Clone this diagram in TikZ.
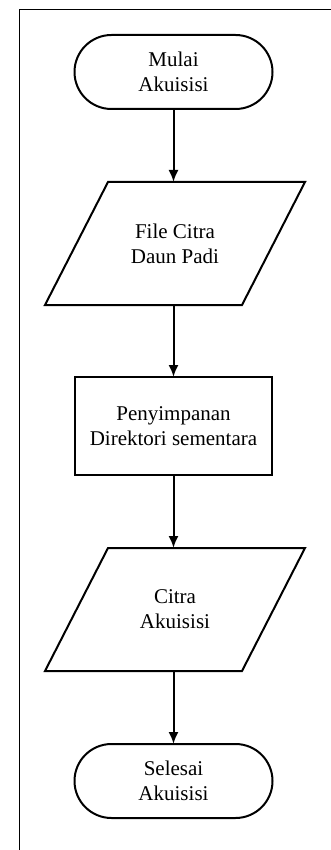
\documentclass[tikz,border=0pt]{standalone}
\usepackage{fontspec}
\setmainfont{Liberation Serif}
\usetikzlibrary{arrows.meta}
\begin{document}
\begin{tikzpicture}[x=1pt,y=-1pt,
  every node/.style={font=\fontsize{21}{25}\selectfont, align=center, inner sep=0pt, outer sep=0pt},
  term/.style={draw, line width=2pt, rounded corners=37pt, minimum width=198pt, minimum height=74pt},
  procbox/.style={draw, line width=2pt, minimum width=197pt, minimum height=98pt},
  iobox/.style={minimum width=197pt, minimum height=123pt},
  ioshape/.style={line width=2pt, line join=miter},
  flow/.style={line width=2pt, -{Latex[length=12pt,width=10pt]}}
]
\useasboundingbox (0,0) rectangle (331,850);
\draw[line width=1.8pt] (19.5,851) -- (19.5,9.5) -- (332,9.5);
\node[term] (start) at (173.5,72) {Mulai\\Akuisisi};
\node[iobox] (in1) at (175,243.5) {File Citra\\Daun Padi};
\draw[ioshape] ([xshift=31.5pt]in1.north west) -- ([xshift=31.5pt]in1.north east)
  -- ([xshift=-31.5pt]in1.south east) -- ([xshift=-31.5pt]in1.south west) -- cycle;
\node[procbox] (proc) at (173.5,426) {Penyimpanan\\Direktori sementara};
\node[iobox] (in2) at (175,609.5) {Citra\\Akuisisi};
\draw[ioshape] ([xshift=31.5pt]in2.north west) -- ([xshift=31.5pt]in2.north east)
  -- ([xshift=-31.5pt]in2.south east) -- ([xshift=-31.5pt]in2.south west) -- cycle;
\node[term] (stop) at (173.5,781) {Selesai\\Akuisisi};
\draw[flow] (start.south) -- (start.south |- in1.north);
\draw[flow] (start.south |- in1.south) -- (proc.north);
\draw[flow] (proc.south) -- (proc.south |- in2.north);
\draw[flow] (proc.south |- in2.south) -- (stop.north);
\end{tikzpicture}
\end{document}
